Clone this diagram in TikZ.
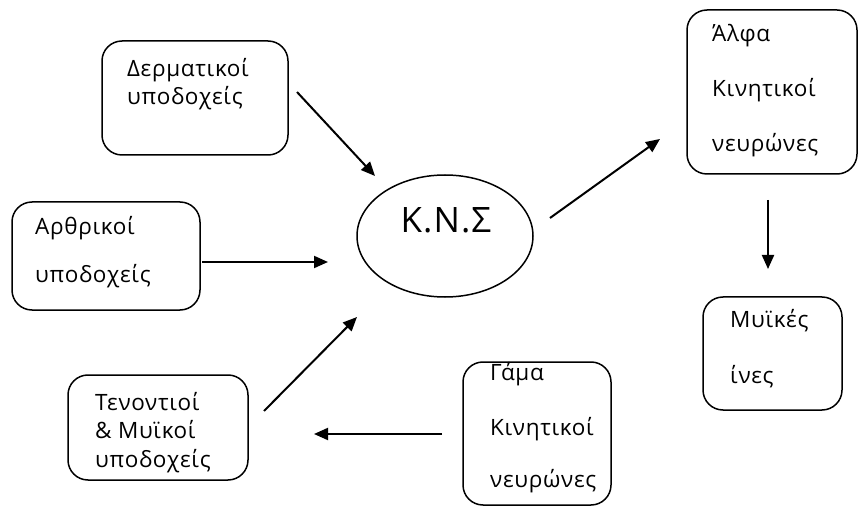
\documentclass[tikz,border=0pt]{standalone}
\usepackage{fontspec}
\setmainfont{Open Sans}[LetterSpace=3]
\newfontfamily\bigfont{Open Sans}[LetterSpace=3]
\usetikzlibrary{arrows.meta,shapes.geometric}
\begin{document}
\begin{tikzpicture}[x=1bp,y=-1bp,
  box/.style={draw=black, line width=1.5bp, rounded corners=20bp},
  txt/.style={anchor=base west, inner sep=0pt, font=\fontsize{22.5bp}{26bp}\selectfont},
  arr/.style={line width=2bp, -{Triangle[length=14bp,width=12bp]}}]
\useasboundingbox (0,0) rectangle (858,508);
% boxes
\draw[box] (102,41) rectangle (288,155);
\draw[box] (12,202) rectangle (200,310);
\draw[box] (68,375) rectangle (248,480);
\draw[box] (463,362) rectangle (611,505);
\draw[box] (687,10) rectangle (857,174);
\draw[box] (703,297) rectangle (842,410);
\node[draw, ellipse, line width=1.5bp, minimum width=176bp, minimum height=122bp] (kns) at (445,236) {};
% texts
\node[txt] (t1a) at (127,77) {Δερματικοί};
\node[txt] (t1b) at (127,105) {υποδοχείς};
\node[txt] (t2a) at (35,235) {Αρθρικοί};
\node[txt] (t2b) at (35,283) {υποδοχείς};
\node[txt] (t3a) at (95,410) {Τενοντιοί};
\node[txt] (t3b) at (95,438) {\& Μυϊκοί};
\node[txt] (t3c) at (95,467) {υποδοχείς};
\node[txt] (t4a) at (490,380) {Γάμα};
\node[txt] (t4b) at (490,435) {Κινητικοί};
\node[txt] (t4c) at (490,487) {νευρώνες};
\node[txt] (t5a) at (712,42) {Άλφα};
\node[txt] (t5b) at (712,97) {Κινητικοί};
\node[txt] (t5c) at (712,152) {νευρώνες};
\node[txt] (t6a) at (730,328) {Μυϊκές};
\node[txt] (t6b) at (730,383) {ίνες};
\node[anchor=base, inner sep=0pt, font=\bigfont\fontsize{35bp}{40bp}\selectfont] (knst) at (446,233) {Κ.Ν.Σ};
% arrows
\coordinate (a1s) at (297,92);  \coordinate (a1e) at (375,176);
\coordinate (a2s) at (202,262); \coordinate (a2e) at (328,262);
\coordinate (a3s) at (264,411); \coordinate (a3e) at (357,317);
\coordinate (a4s) at (550,218); \coordinate (a4e) at (660,139);
\coordinate (a5s) at (768,200); \coordinate (a5e) at (768,269);
\coordinate (a6s) at (442,434); \coordinate (a6e) at (314,434);
\draw[arr] (a1s) -- (a1e);
\draw[arr] (a2s) -- (a2e);
\draw[arr] (a3s) -- (a3e);
\draw[arr] (a4s) -- (a4e);
\draw[arr] (a5s) -- (a5e);
\draw[arr] (a6s) -- (a6e);
\end{tikzpicture}
\end{document}
